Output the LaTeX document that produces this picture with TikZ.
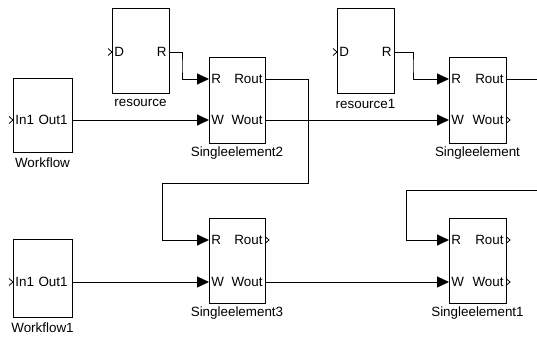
\documentclass[tikz,border=0pt]{standalone}
\usepackage{fontspec}
\setmainfont{Liberation Sans}
\usetikzlibrary{arrows.meta,positioning}
\tikzset{
  block/.style={draw, line width=0.9pt, inner sep=0pt},
  portlbl/.style={font=\fontsize{13.4}{15}\selectfont, inner sep=2.2pt},
  blklbl/.style={font=\fontsize{13.4}{15}\selectfont, inner sep=1pt},
  wire/.style={line width=0.9pt},
  sig/.style={wire, -{Triangle[length=12pt,width=11pt]}},
  chev/.style={line width=0.8pt}
}
\begin{document}
\begin{tikzpicture}[x=1pt, y=-1pt]
  \useasboundingbox (0,0) rectangle (537,342);
  % blocks
  \node[block, minimum width=59pt, minimum height=74pt] (wf) at (42.5,115) {};
  \node[block, minimum width=57pt, minimum height=85pt] (res) at (140.5,50.5) {};
  \node[block, minimum width=56pt, minimum height=86pt] (se2) at (237,100) {};
  \node[block, minimum width=57pt, minimum height=85pt] (res1) at (365.5,50.5) {};
  \node[block, minimum width=57pt, minimum height=86pt] (se) at (477.5,100) {};
  \node[block, minimum width=59pt, minimum height=78pt] (wf1) at (42.5,278) {};
  \node[block, minimum width=56pt, minimum height=85pt] (se3) at (237,260.5) {};
  \node[block, minimum width=57pt, minimum height=85pt] (se1) at (477.5,260.5) {};
  \node[blklbl, below=4.5pt of wf] (wfLbl) {Workflow};
  \node[blklbl, below=4.5pt of res] (resLbl) {resource};
  \node[blklbl, below=2.5pt of se2] (se2Lbl) {Singleelement2};
  \node[blklbl, below=4.5pt of res1] (res1Lbl) {resource1};
  \node[blklbl, below=2.5pt of se] (seLbl) {Singleelement};
  \node[blklbl, below=4.5pt of wf1] (wf1Lbl) {Workflow1};
  \node[blklbl, below=2.5pt of se3] (se3Lbl) {Singleelement3};
  \node[blklbl, below=2.5pt of se1] (se1Lbl) {Singleelement1};
  % ports
  \coordinate (wfIn) at (13,120);   \coordinate (wfOut) at (72,120);
  \coordinate (resD) at (112,52);   \coordinate (resR) at (169,52);
  \coordinate (se2R) at (209,79);   \coordinate (se2Rout) at (265,79);
  \coordinate (se2W) at (209,120);  \coordinate (se2Wout) at (265,120);
  \coordinate (res1D) at (337,52);  \coordinate (res1R) at (394,52);
  \coordinate (seR) at (449,79);    \coordinate (seRout) at (506,79);
  \coordinate (seW) at (449,120);   \coordinate (seWout) at (506,120);
  \coordinate (wf1In) at (13,282);  \coordinate (wf1Out) at (72,282);
  \coordinate (se3R) at (209,240);  \coordinate (se3Rout) at (265,240);
  \coordinate (se3W) at (209,282);  \coordinate (se3Wout) at (265,282);
  \coordinate (se1R) at (449,240);  \coordinate (se1Rout) at (506,240);
  \coordinate (se1W) at (449,282);  \coordinate (se1Wout) at (506,282);
  \coordinate (seRend) at (537,79);
  \coordinate (se1Rsrc) at (537,190);
  % port labels
  \node[portlbl, right] (wfInL) at (wfIn) {In1};
  \node[portlbl, left, xshift=-2pt] (wfOutL) at (wfOut) {Out1};
  \node[portlbl, right] (wf1InL) at (wf1In) {In1};
  \node[portlbl, left, xshift=-2pt] (wf1OutL) at (wf1Out) {Out1};
  \node[portlbl, right] (resDL) at (resD) {D};
  \node[portlbl, left] (resRL) at (resR) {R};
  \node[portlbl, right] (res1DL) at (res1D) {D};
  \node[portlbl, left] (res1RL) at (res1R) {R};
  \foreach \b in {se2, se, se3, se1} {
    \node[portlbl, right] (\b RL) at (\b R) {R};
    \node[portlbl, right] (\b WL) at (\b W) {W};
    \node[portlbl, left] (\b RoutL) at (\b Rout) {Rout};
    \node[portlbl, left] (\b WoutL) at (\b Wout) {Wout};
  }
  % open ports
  \foreach \p in {wfIn, wf1In, resD, res1D}
    \draw[chev] ([xshift=-4pt,yshift=3.5pt]\p) -- (\p) -- ([xshift=-4pt,yshift=-3.5pt]\p);
  \foreach \p in {seWout, se3Rout, se1Rout, se1Wout}
    \draw[chev] ([yshift=3.5pt]\p) -- ([xshift=4pt]\p) -- ([yshift=-3.5pt]\p);
  % signal lines
  \draw[sig] (wfOut) -- (se2W);
  \draw[sig] (resR) -| (182,66) |- (se2R);
  \draw[sig] (se2Rout) -- (308,79) -- (308,183) -- (162,183) |- (se3R);
  \draw[sig] (se2Wout) -- (seW);
  \draw[sig] (res1R) -| (413,66) |- (seR);
  \draw[wire] (seRout) -- (seRend);
  \draw[sig] (wf1Out) -- (se3W);
  \draw[sig] (se3Wout) -- (se1W);
  \draw[sig] (se1Rsrc) -- (406,190) |- (se1R);
\end{tikzpicture}
\end{document}
